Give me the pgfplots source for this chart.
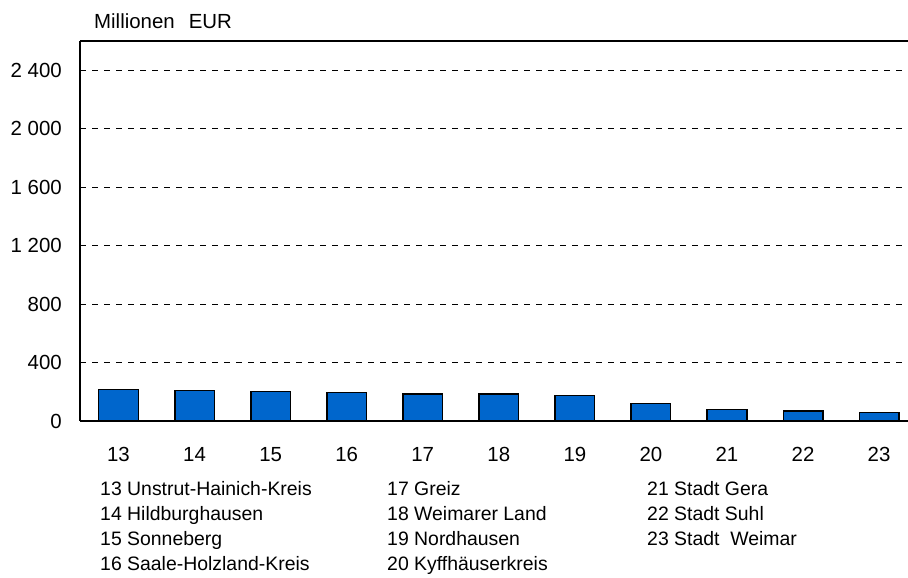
\documentclass[border=0pt]{standalone}
\usepackage{pgfplots}
\pgfplotsset{compat=1.18}
\usepackage{fontspec}
\setmainfont{Liberation Sans}
\definecolor{barblue}{HTML}{0066CC}
\newcommand\lblfont{\fontsize{20.5}{24}\selectfont}
\newcommand\legfont{\fontsize{19.5}{24}\selectfont}
\newcommand\tsep{\hspace{0.28em}}
\begin{document}
\begin{tikzpicture}
\path[use as bounding box] (0,0) rectangle (908bp,578bp);
\begin{axis}[
  at={(80bp,157bp)}, anchor=south west,
  scale only axis, width=828bp, height=380bp,
  xmin=12.494, xmax=23.38, ymin=0, ymax=2600,
  separate axis lines,
  axis x line*=box, axis y line*=left,
  axis line style={line width=1.3bp, black},
  xtick={13,...,23}, xticklabels={13,14,15,16,17,18,19,20,21,22,23},
  ytick={0,400,800,1200,1600,2000,2400},
  yticklabels={0,400,800,1\tsep200,1\tsep600,2\tsep000,2\tsep400},
  major tick length=0pt,
  ymajorgrids,
  major grid style={black, line width=0.6bp, dash pattern=on 6bp off 6bp},
  tick label style={font=\lblfont},
  xticklabel style={anchor=base, inner sep=0pt, yshift=-40bp},
  yticklabel style={anchor=east, inner sep=0pt, xshift=-18bp},
  /pgf/number format/assume math mode=true,
  clip=false,
]
\addplot[ybar, bar width=0.52, fill=barblue, draw=black, line width=1.5bp]
 coordinates {(13,217) (14,208) (15,201) (16,196) (17,185) (18,185) (19,176) (20,121) (21,80) (22,68) (23,59)};
\end{axis}
\node[anchor=base west, inner sep=0pt, font=\lblfont] at (94bp,{578bp-29bp}) {Millionen\hspace{14bp}EUR};
\begin{scope}[every node/.style={anchor=base west, inner sep=0pt, font=\legfont}]
\node at (100bp,{578bp-495.5bp}) {13 Unstrut-Hainich-Kreis};
\node at (100bp,{578bp-520.5bp}) {14 Hildburghausen};
\node at (100bp,{578bp-545.5bp}) {15 Sonneberg};
\node at (100bp,{578bp-570.5bp}) {16 Saale-Holzland-Kreis};
\node at (387bp,{578bp-495.5bp}) {17 Greiz};
\node at (387bp,{578bp-520.5bp}) {18 Weimarer Land};
\node at (387bp,{578bp-545.5bp}) {19 Nordhausen};
\node at (387bp,{578bp-570.5bp}) {20 Kyffhäuserkreis};
\node at (647bp,{578bp-495.5bp}) {21 Stadt Gera};
\node at (647bp,{578bp-520.5bp}) {22 Stadt Suhl};
\node at (647bp,{578bp-545.5bp}) {23 Stadt\ \ Weimar};
\end{scope}
\end{tikzpicture}
\end{document}
